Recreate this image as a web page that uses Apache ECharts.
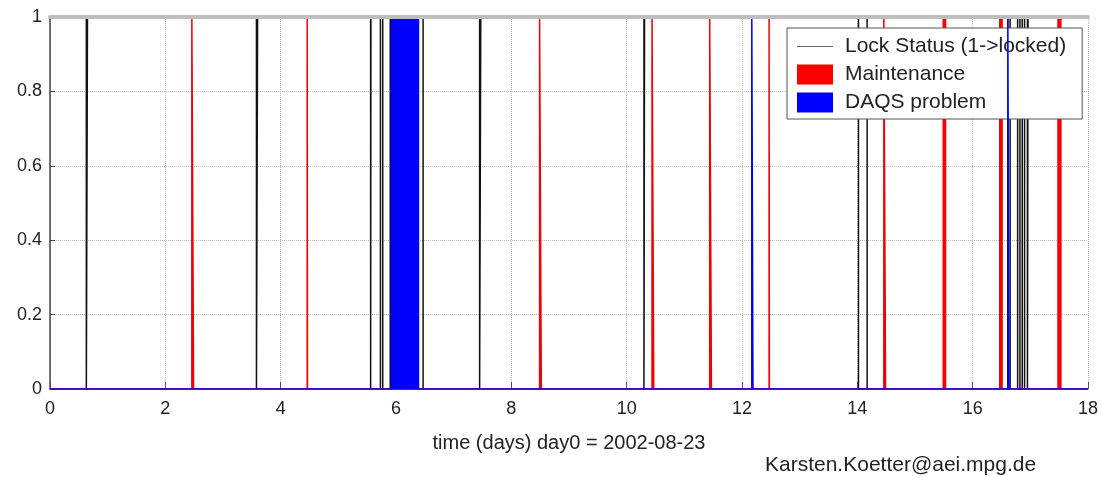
<!DOCTYPE html>
<html>
<head>
<meta charset="utf-8">
<script src="https://cdn.jsdelivr.net/npm/echarts@6/dist/echarts.min.js"></script>
<style>
html,body{margin:0;padding:0;background:#fff;}
#c{width:1101px;height:477px;}
</style>
</head>
<body>
<div id="c"></div>
<script>
// ---- data (days since 2002-08-23) ----
var lockLoss = [[0.63,0.65],[3.58,3.60],[5.56,5.565],[5.73,5.77],[5.90,6.47],[7.45,7.47],[10.30,10.31],[14.02,14.17],[16.61,16.65],[16.78,16.82],[16.86,16.90],[16.95,16.96]];
var maintenance = [[2.46,2.49],[4.46,4.465],[8.49,8.52],[10.44,10.47],[11.44,11.47],[12.47,12.475],[14.46,14.49],[15.49,15.53],[16.47,16.51],[17.48,17.53]];
var daqs = [[5.92,6.39],[12.17,12.19],[16.61,16.63]];
var xMin = 0, xMax = 18;
var seriesNames = ['Lock Status (1->locked)','Maintenance','DAQS problem'];
var xTitle = 'time (days) day0 = 2002-08-23';
var credit = 'Karsten.Koetter@aei.mpg.de';

function lockData(iv){
  var d=[[xMin,1]];
  iv.forEach(function(p){ d.push([p[0],1],[p[0],0],[p[1],0],[p[1],1]); });
  d.push([xMax,1]); return d;
}
function flagData(iv){
  var d=[[xMin,0]];
  iv.forEach(function(p){ d.push([p[0],0],[p[0],1],[p[1],1],[p[1],0]); });
  d.push([xMax,0]); return d;
}

var font = 'Liberation Sans, Arial, sans-serif';
var chart = echarts.init(document.getElementById('c'));
chart.setOption({
  animation:false,
  backgroundColor:'#fff',
  grid:{left:50,right:9,top:17,bottom:88,containLabel:false},
  legend:{
    orient:'vertical', left:787, top:28,
    padding:[8,16,6,10], itemGap:7, itemWidth:36, itemHeight:20,
    backgroundColor:'#fff', borderColor:'#555', borderWidth:1,
    textStyle:{fontFamily:font,fontSize:21,lineHeight:20,color:'#222',padding:[0,0,0,7]},
    data:[
      {name:seriesNames[0],icon:'path://M0,0 L36,0 L36,1.2 L0,1.2 Z'},
      {name:seriesNames[1],icon:'rect'},
      {name:seriesNames[2],icon:'rect'}
    ]
  },
  xAxis:[{
    type:'value', min:xMin, max:xMax, interval:2,
    name:xTitle, nameLocation:'middle', nameGap:44,
    nameTextStyle:{fontFamily:font,fontSize:20,color:'#222'},
    axisLine:{show:true,lineStyle:{color:'#777',width:1}},
    axisTick:{show:true,inside:true,length:7,lineStyle:{color:'#555'}},
    axisLabel:{fontFamily:font,fontSize:18,color:'#222',margin:11},
    splitLine:{show:true,lineStyle:{type:'dotted',color:'#bbb',width:1}}
  },{
    type:'value', min:xMin, max:xMax, position:'top', z:10,
    axisLine:{show:true,lineStyle:{color:'#bdbdbd',width:4}},
    axisTick:{show:false}, axisLabel:{show:false}, splitLine:{show:false}
  }],
  yAxis:{
    type:'value', min:0, max:1, interval:0.2,
    axisLine:{show:true,lineStyle:{color:'#444',width:1.5}},
    axisTick:{show:true,inside:true,length:5,lineStyle:{color:'#444'}},
    axisLabel:{fontFamily:font,fontSize:18,color:'#222',margin:8},
    splitLine:{show:true,lineStyle:{type:'dotted',color:'#bbb',width:1}}
  },
  series:[{
    name:seriesNames[0], type:'line', symbol:'none', z:2,
    lineStyle:{color:'#111',width:1.5}, itemStyle:{color:'#666'},
    data:lockData(lockLoss)
  },{
    name:seriesNames[1], type:'line', symbol:'none', z:3,
    lineStyle:{color:'#f00000',width:1.5}, itemStyle:{color:'#ff0000'},
    areaStyle:{color:'#ff0000',opacity:1},
    data:flagData(maintenance)
  },{
    name:seriesNames[2], type:'line', symbol:'none', z:4,
    lineStyle:{color:'#0000ee',width:1.5}, itemStyle:{color:'#0000ff'},
    areaStyle:{color:'#0000ff',opacity:1},
    data:flagData(daqs)
  }],
  graphic:[{
    type:'text', left:765, top:455,
    style:{text:credit,font:'21px '+font,fill:'#222'}
  }]
});
</script>
</body>
</html>
